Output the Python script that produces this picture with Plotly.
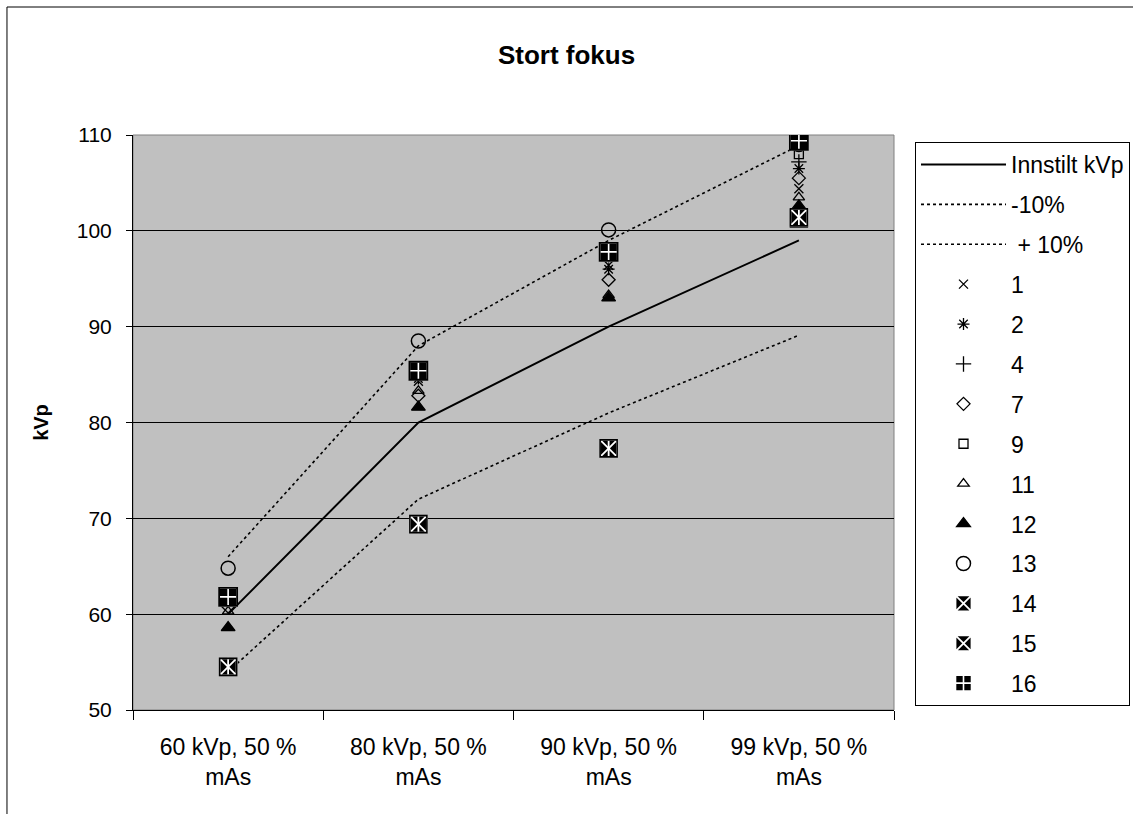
import plotly.graph_objects as go

categories = ["60 kVp, 50 %<br>mAs", "80 kVp, 50 %<br>mAs", "90 kVp, 50 %<br>mAs", "99 kVp, 50 %<br>mAs"]

innstilt = [60, 80, 90, 99]
minus10 = [54, 72, 81, 89.1]
plus10 = [66, 88, 99, 108.9]

s1 = [61.5, 84.3, 96.4, 104.4]
s2 = [61.6, 84.6, 96.0, 106.5]
s4 = [62.0, 85.2, 97.5, 107.2]
s7 = [60.8, 82.8, 94.9, 105.5]
s9 = [62.2, 85.6, 98.0, 108.0]
s11 = [60.3, 83.3, 93.3, 103.5]
s12 = [58.6, 81.6, 93.0, 102.6]
s13 = [64.8, 88.5, 100.1, 109.0]
s14 = [54.5, 69.4, 77.3, 101.3]
s15 = [54.5, 69.4, 77.3, 101.4]
s16 = [61.8, 85.4, 97.8, 109.4]

FONT = "Liberation Sans, Arial, sans-serif"

fig = go.Figure()

def line_trace(name, y, dash, width):
    fig.add_trace(go.Scatter(x=categories, y=y, name=name, mode="lines",
                             legendgroup=name,
                             line=dict(color="black", width=width, dash=dash)))

line_trace("Innstilt kVp", innstilt, "solid", 2)
line_trace("-10%", minus10, "dot", 1.6)
line_trace(" + 10%", plus10, "dot", 1.6)

def marker_trace(name, y, symbol, size, color="black", lcolor="black", lwidth=1.3, showlegend=True, group=None):
    fig.add_trace(go.Scatter(x=categories, y=y, name=name, mode="markers",
                             legendgroup=group or name, showlegend=showlegend,
                             hoverinfo="skip" if not showlegend else None,
                             marker=dict(symbol=symbol, size=size, color=color,
                                         line=dict(color=lcolor, width=lwidth))))

marker_trace("1", s1, "x-thin-open", 9)
marker_trace("2", s2, "asterisk-open", 10)
marker_trace("4", s4, "cross-thin-open", 11)
marker_trace("7", s7, "diamond-open", 10)
marker_trace("9", s9, "square-open", 9)
marker_trace("11", s11, "triangle-up-open", 10)
marker_trace("12", s12, "triangle-up", 12)
marker_trace("13", s13, "circle-open", 14, lwidth=1.5)

marker_trace("14", s14, "square-x", 17, color="black", lcolor="white", lwidth=1.8)
marker_trace("14", s14, "square-open", 17, lwidth=1.6, showlegend=False, group="14")

marker_trace("15", s15, "square-x", 17, color="black", lcolor="white", lwidth=1.8)
marker_trace("15", s15, "line-ns-open", 13, color="white", lcolor="white", lwidth=1.8,
             showlegend=False, group="15")
marker_trace("15", s15, "square-open", 17, lwidth=1.6, showlegend=False, group="15")

marker_trace("16", s16, "square-cross", 18, color="black", lcolor="white", lwidth=1.6)
marker_trace("16", s16, "square-open", 18, lwidth=1.8, showlegend=False, group="16")

# outer chart border
fig.add_shape(type="rect", xref="paper", yref="paper", x0=-0.1656, x1=2.0, y0=-1.0, y1=1.2226,
              line=dict(color="black", width=1), layer="below")
# plot area border (gray)
fig.add_shape(type="rect", xref="paper", yref="paper", x0=0, x1=1, y0=0, y1=1,
              line=dict(color="#808080", width=1), layer="below")

fig.update_layout(
    width=1133, height=814,
    margin=dict(l=133, r=239, t=135, b=104, autoexpand=False),
    paper_bgcolor="white",
    plot_bgcolor="#C0C0C0",
    font=dict(family=FONT, color="black", size=20),
    title=dict(text="<b>Stort fokus</b>", x=0.5, xanchor="center", y=0.933, yanchor="middle",
               font=dict(size=26, family=FONT)),
    showlegend=True,
    legend=dict(x=1.0276, y=0.9878, xanchor="left", yanchor="top",
                bgcolor="white", bordercolor="black", borderwidth=1,
                font=dict(size=23, family=FONT), tracegroupgap=7, itemwidth=85,
                maxheight=800, entrywidth=240),
)

fig.update_xaxes(type="category", range=[-0.5, 3.5], tickson="boundaries",
                 ticks="outside", ticklen=9, tickcolor="black", showline=True,
                 linecolor="black", linewidth=1, showgrid=False,
                 ticklabelstandoff=16, tickfont=dict(size=23, family=FONT))
fig.update_yaxes(range=[50, 110], dtick=10, ticks="outside", ticklen=6, tickcolor="black",
                 showline=True, linecolor="black", linewidth=1, showgrid=True,
                 gridcolor="black", gridwidth=1, zeroline=False,
                 ticklabelstandoff=10, tickfont=dict(size=21, family=FONT),
                 title=dict(text="<b>kVp</b>", font=dict(size=20, family=FONT), standoff=22))

fig.write_html("out.html")
